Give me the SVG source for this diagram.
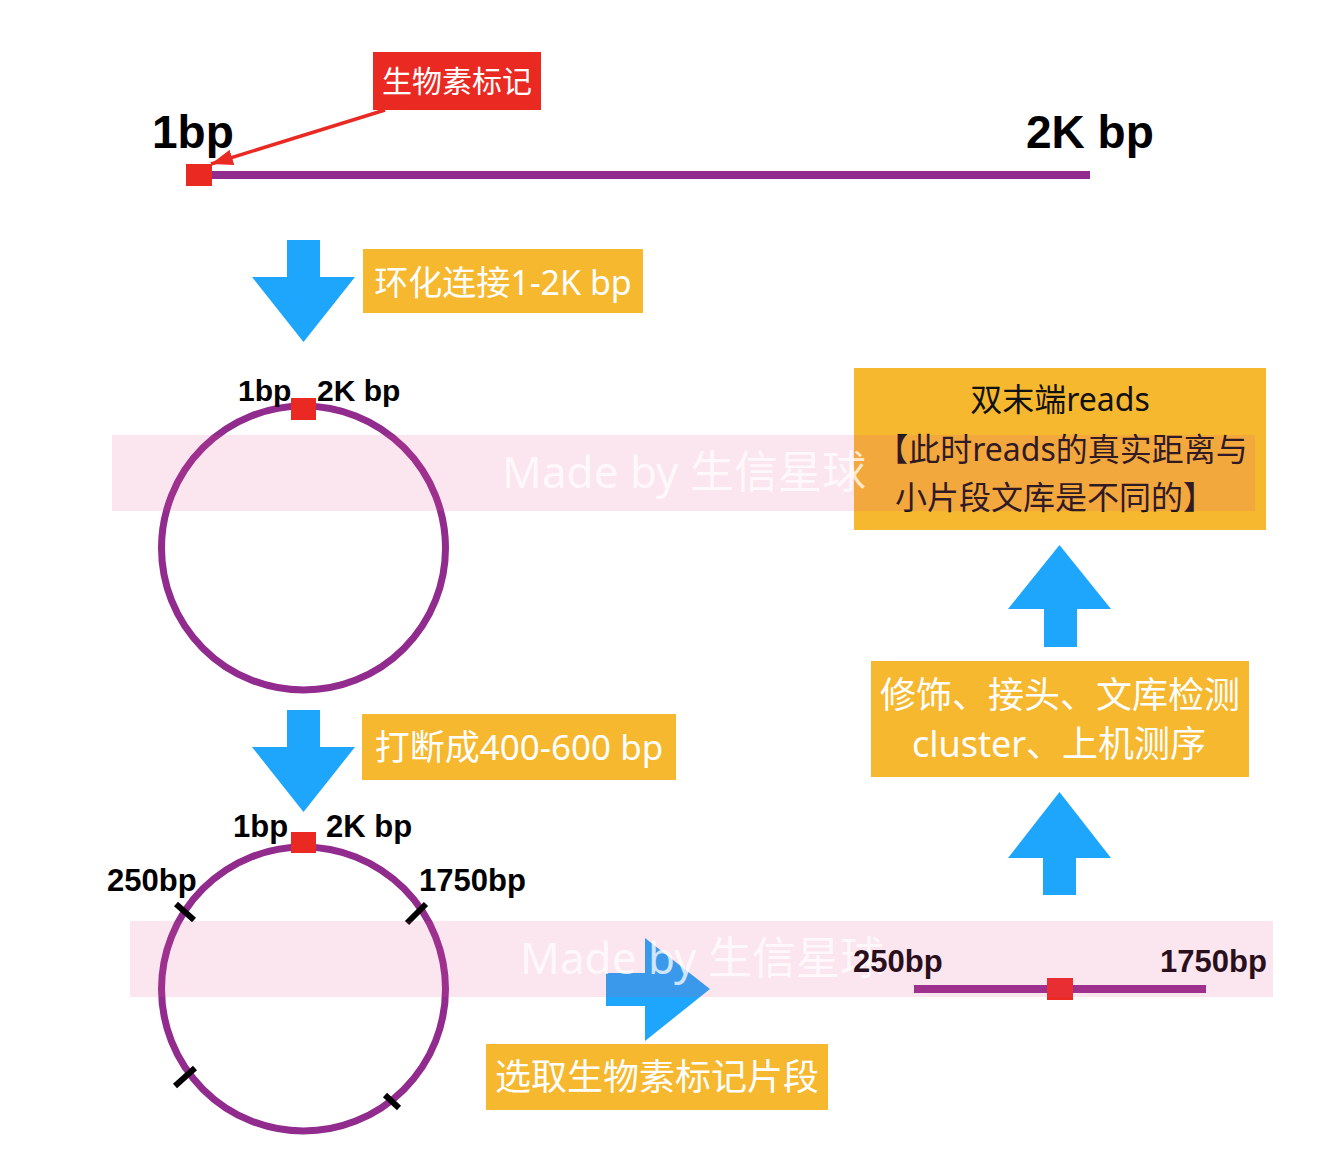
<svg xmlns="http://www.w3.org/2000/svg" width="1340" height="1162" viewBox="0 0 1340 1162">
<defs>
<style>
.dna{stroke:#922B8E;stroke-width:8;fill:none}
.ring{stroke:#922B8E;stroke-width:7;fill:none}
.tag{fill:#EA2923}
.blue{fill:#1EA6FC}
.obox{fill:#F6B82E}
.tick{stroke:#000;stroke-width:6}
.lbl{font-family:"Liberation Sans",Arial,sans-serif;font-weight:bold;fill:#000}
.wt{font-family:"Noto Sans","Noto Sans CJK SC",sans-serif;fill:#fff}
.dk{font-family:"Noto Sans","Noto Sans CJK SC",sans-serif;fill:#111}
.band{fill:#E65096;fill-opacity:0.15}
.wm{font-family:"Noto Sans","Noto Sans CJK SC",sans-serif;font-size:44px;fill:#fff;fill-opacity:0.75}
</style>
<marker id="ah" markerWidth="22" markerHeight="16" refX="22" refY="8" orient="auto" markerUnits="userSpaceOnUse">
<path d="M0,0 L22,8 L0,16 z" fill="#EA2923"/>
</marker>
</defs>
<rect width="1340" height="1162" fill="#fff"/>

<g id="top-fragment">
<line class="dna" x1="205" y1="175" x2="1090" y2="175"/>
<rect class="tag" x="186" y="164" width="26" height="22"/>
<text class="lbl" x="152" y="148" font-size="46">1bp</text>
<text class="lbl" x="1026" y="148" font-size="46">2K bp</text>
</g>

<g id="biotin-label">
<rect class="tag" x="373" y="52" width="168" height="58"/>
<text class="wt" x="457" y="92" font-size="30" text-anchor="middle">生物素标记</text>
</g>

<g id="circle1">
<circle class="ring" cx="303.5" cy="548" r="142"/>
<rect class="tag" x="291" y="398" width="25" height="22"/>
<text class="lbl" x="238" y="401" font-size="30">1bp</text>
<text class="lbl" x="317" y="401" font-size="30">2K bp</text>
</g>

<g id="circle2">
<circle class="ring" cx="303.5" cy="989" r="142"/>
<rect class="tag" x="291" y="832" width="25" height="21"/>
<line class="tick" x1="176" y1="904" x2="194" y2="920"/>
<line class="tick" x1="426" y1="904" x2="407" y2="923"/>
<line class="tick" x1="195" y1="1068" x2="175" y2="1086"/>
<line class="tick" x1="385" y1="1095" x2="399" y2="1108"/>
<text class="lbl" x="233" y="837" font-size="31">1bp</text>
<text class="lbl" x="326" y="837" font-size="31">2K bp</text>
<text class="lbl" x="107" y="891" font-size="31">250bp</text>
<text class="lbl" x="419" y="891" font-size="31">1750bp</text>
</g>

<g id="step1-label">
<rect class="obox" x="363" y="249" width="280" height="64"/>
<text class="wt" x="503" y="295" font-size="34" text-anchor="middle">环化连接1-2K bp</text>
</g>

<g id="step2-label">
<rect class="obox" x="362" y="714" width="314" height="66"/>
<text class="wt" x="519" y="760" font-size="35" text-anchor="middle">打断成400-600 bp</text>
</g>

<g id="step3-label">
<rect class="obox" x="486" y="1044" width="342" height="66"/>
<text class="wt" x="657" y="1090" font-size="36" text-anchor="middle">选取生物素标记片段</text>
</g>

<g id="step4-label">
<rect class="obox" x="871" y="661" width="378" height="116"/>
<text class="wt" x="1060" y="708" font-size="36" text-anchor="middle">修饰、接头、文库检测</text>
<text class="wt" x="1059" y="757" font-size="36" text-anchor="middle">cluster、上机测序</text>
</g>

<g id="result-label">
<rect class="obox" x="854" y="368" width="412" height="162"/>
<text class="dk" x="1060" y="411" font-size="32" text-anchor="middle">双末端reads</text>
<text class="dk" x="1062" y="461" font-size="32" text-anchor="middle">【此时reads的真实距离与</text>
<text class="dk" x="1055" y="509" font-size="32" text-anchor="middle">小片段文库是不同的】</text>
</g>

<g id="fragment-selected">
<line class="dna" x1="914" y1="989" x2="1206" y2="989"/>
<rect class="tag" x="1047" y="978" width="26" height="22"/>
</g>

<g id="connectors">
<line x1="385" y1="110" x2="211" y2="164" stroke="#EA2923" stroke-width="3.5" marker-end="url(#ah)"/>
<polygon class="blue" points="287,240 320,240 320,277 355,277 303.5,342 252,277 287,277"/>
<polygon class="blue" points="287,710 320,710 320,747 355,747 303.5,812 252,747 287,747"/>
<polygon class="blue" points="606,973 645,973 645,938 710,989 645,1041 645,1006 606,1006"/>
<polygon class="blue" points="1043,895 1076,895 1076,858 1111,858 1059.5,792 1008,858 1043,858"/>
<polygon class="blue" points="1044,647 1077,647 1077,609 1111,609 1059.5,545 1008,609 1044,609"/>
</g>

<g id="watermark">
<rect class="band" x="112" y="435" width="1143" height="76"/>
<rect class="band" x="130" y="921" width="1143" height="76"/>
<text class="wm" x="502" y="488">Made by 生信星球</text>
<text class="wm" x="520" y="974">Made by 生信星球</text>
</g>

<g id="fragment-labels">
<text class="lbl" x="853" y="972" font-size="31" fill="#2A0F1C" style="fill:#2A0F1C">250bp</text>
<text class="lbl" x="1160" y="972" font-size="31" style="fill:#2A0F1C">1750bp</text>
</g>
</svg>
